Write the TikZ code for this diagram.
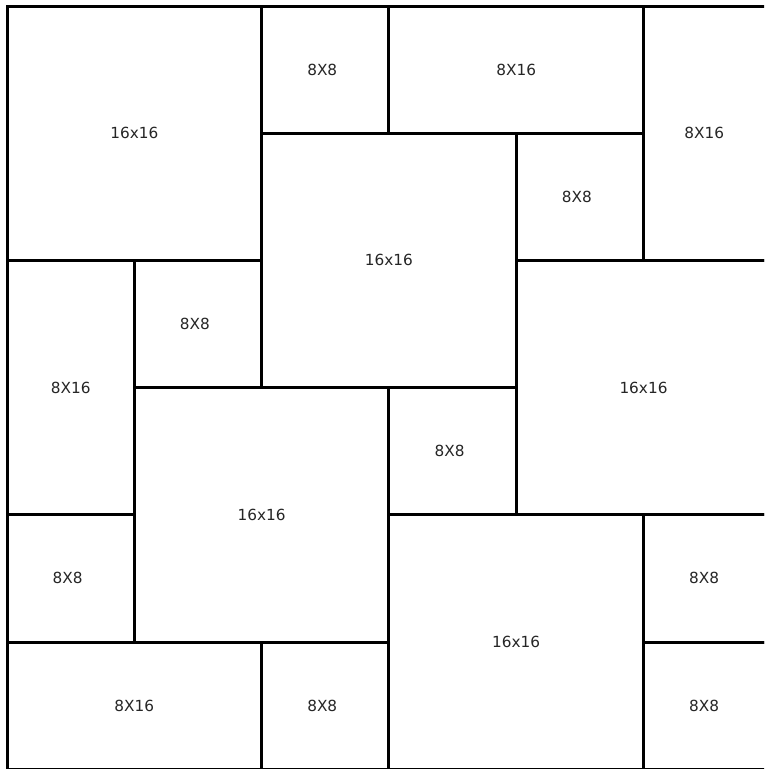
\documentclass[tikz,border=0pt]{standalone}
\usepackage{fontspec}
\setmainfont{DejaVu Sans}
\begin{document}
\begin{tikzpicture}[x=1pt,y=-1pt,
  cell/.style={draw=black, line width=3pt, rectangle, inner sep=0pt, outer sep=0pt,
    font=\fontsize{15.3}{18}\selectfont, text=black!85},
  sq/.style={cell, minimum width=254.6pt, minimum height=254.4pt},
  sm/.style={cell, minimum width=127.3pt, minimum height=127.2pt},
  smoff/.style={sm, execute at begin node={\hspace*{-6pt}}},
  wide/.style={cell, minimum width=254.6pt, minimum height=127.2pt},
  tall/.style={cell, minimum width=127.3pt, minimum height=254.4pt}]
\useasboundingbox (0,0) rectangle (764,769);
\clip (0,0) rectangle (764,769);
\fill[white] (0,0) rectangle (764,769);
% column x: 7, 134.3, 261.6, 388.9, 516.2, 643.5, 770.8
% row y: 6, 133.2, 260.4, 387.6, 514.8, 642, 769.2
\node[sq]    (a1) at (134.3,133.2) {16x16};
\node[smoff] (a2) at (325.25,69.6) {8X8};
\node[wide]  (a3) at (516.2,69.6)  {8X16};
\node[tall]  (a4) at (707.15,133.2) {\hspace*{-6pt}8X16};
\node[sq]    (b1) at (388.9,260.4) {16x16};
\node[smoff] (b2) at (579.85,196.8) {8X8};
\node[tall]  (c1) at (70.65,387.6) {8X16};
\node[smoff] (c2) at (197.95,324)  {8X8};
\node[sq]    (c3) at (643.5,387.6) {16x16};
\node[sq]    (d1) at (261.6,514.8) {16x16};
\node[smoff] (d2) at (452.55,451.2) {8X8};
\node[smoff] (e1) at (70.65,578.4) {8X8};
\node[sq]    (e2) at (516.2,642)   {16x16};
\node[smoff] (e3) at (707.15,578.4) {8X8};
\node[wide]  (f1) at (134.3,705.6) {8X16};
\node[smoff] (f2) at (325.25,705.6) {8X8};
\node[smoff] (f3) at (707.15,705.6) {8X8};
\end{tikzpicture}
\end{document}
